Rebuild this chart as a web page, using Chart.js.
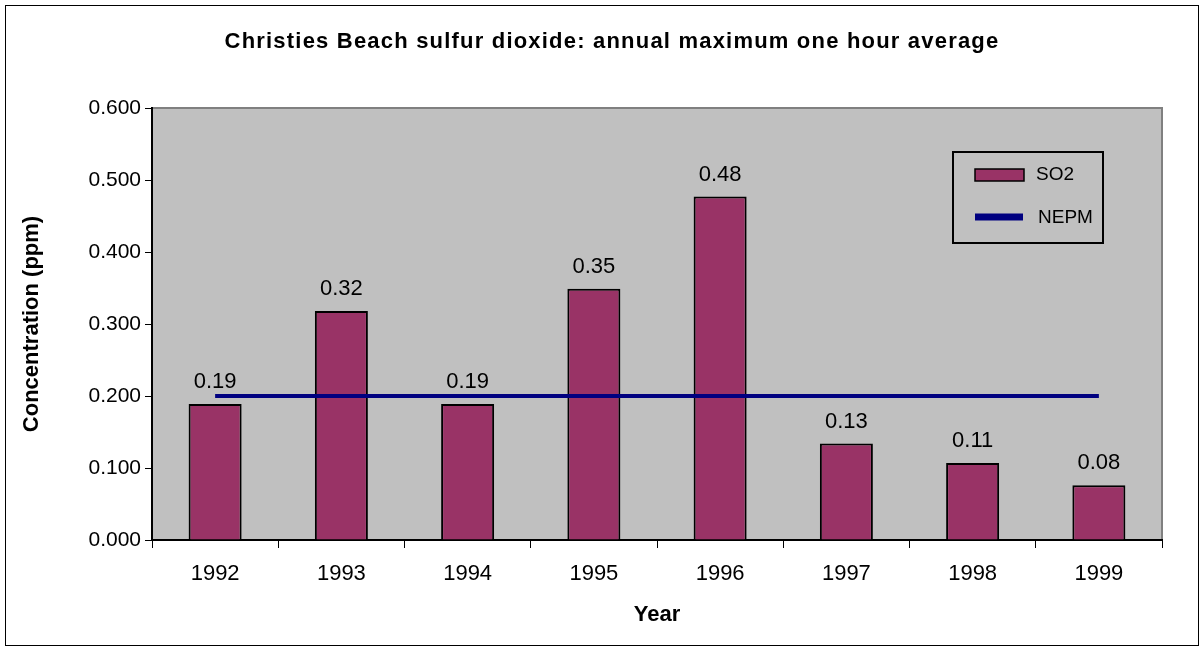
<!DOCTYPE html>
<html>
<head>
<meta charset="utf-8">
<script src="https://cdn.jsdelivr.net/npm/chart.js@4/dist/chart.umd.min.js"></script>
<style>
  html, body { margin: 0; padding: 0; background: #fff; }
  #wrap { width: 1204px; height: 652px; }
</style>
</head>
<body>
<div id="wrap"><canvas id="so2Chart" width="1204" height="652"></canvas></div>
<script>
// values
const years = ['1992', '1993', '1994', '1995', '1996', '1997', '1998', '1999'];
const so2Values = [0.189, 0.318, 0.189, 0.349, 0.477, 0.134, 0.107, 0.076];
const so2Labels = ['0.19', '0.32', '0.19', '0.35', '0.48', '0.13', '0.11', '0.08'];
const nepmValues = [0.2, 0.2, 0.2, 0.2, 0.2, 0.2, 0.2, 0.2];
const chartTitle = 'Christies Beach sulfur dioxide: annual maximum one hour average';

const FONT = 'Arial, "Liberation Sans", sans-serif';

// outer frame, title, grey plot area
const frame = {
    id: 'frame',
    beforeDraw(chart) {
        const ctx = chart.ctx;
        const a = chart.chartArea;
        ctx.save();
        ctx.strokeStyle = '#000';
        ctx.lineWidth = 1;
        ctx.strokeRect(5.5, 5.5, 1193, 640);

        ctx.fillStyle = '#000';
        ctx.font = 'bold 22px ' + FONT;
        ctx.letterSpacing = '1.2px';
        ctx.textAlign = 'center';
        ctx.textBaseline = 'middle';
        ctx.fillText(chartTitle, 612, 42);
        ctx.letterSpacing = '0px';

        ctx.fillStyle = '#c0c0c0';
        ctx.fillRect(a.left, a.top, a.right - a.left, a.bottom - a.top);
        ctx.strokeStyle = '#808080';
        ctx.lineWidth = 2;
        ctx.beginPath();
        ctx.moveTo(a.left, a.top);
        ctx.lineTo(a.right, a.top);
        ctx.lineTo(a.right, a.bottom);
        ctx.stroke();
        ctx.restore();
    }
};

// value labels above bars
const barLabels = {
    id: 'barLabels',
    afterDatasetsDraw(chart) {
        const ctx = chart.ctx;
        const meta = chart.getDatasetMeta(1);
        ctx.save();
        ctx.font = '22px ' + FONT;
        ctx.fillStyle = '#000';
        ctx.textAlign = 'center';
        ctx.textBaseline = 'middle';
        meta.data.forEach((bar, i) => {
            ctx.fillText(so2Labels[i], bar.x, bar.y - 22);
        });
        ctx.restore();
    }
};

// Excel-style legend box inside the plot area
const boxLegend = {
    id: 'boxLegend',
    afterDraw(chart) {
        const ctx = chart.ctx;
        const a = chart.chartArea;
        const x = a.right - 209, y = a.top + 44;
        ctx.save();
        ctx.fillStyle = '#c0c0c0';
        ctx.fillRect(x, y, 150, 91);
        ctx.strokeStyle = '#000';
        ctx.lineWidth = 2;
        ctx.strokeRect(x, y, 150, 91);
        ctx.fillStyle = '#993366';
        ctx.fillRect(x + 22, y + 17, 49, 12);
        ctx.lineWidth = 1.5;
        ctx.strokeRect(x + 22, y + 17, 49, 12);
        ctx.strokeStyle = '#000080';
        ctx.lineWidth = 7;
        ctx.beginPath();
        ctx.moveTo(x + 22, y + 65);
        ctx.lineTo(x + 70, y + 65);
        ctx.stroke();
        ctx.fillStyle = '#000';
        ctx.font = '19px ' + FONT;
        ctx.textBaseline = 'middle';
        ctx.fillText('SO2', x + 83, y + 23);
        ctx.fillText('NEPM', x + 85, y + 66);
        ctx.restore();
    }
};

new Chart(document.getElementById('so2Chart'), {
    data: {
        labels: years,
        datasets: [{
            type: 'line',
            label: 'NEPM',
            data: nepmValues,
            borderColor: '#000080',
            borderWidth: 4,
            pointRadius: 0,
            fill: false,
            order: 0
        }, {
            type: 'bar',
            label: 'SO2',
            data: so2Values,
            backgroundColor: '#993366',
            borderColor: '#000',
            borderWidth: 2,
            categoryPercentage: 1,
            barPercentage: 0.42,
            order: 1
        }]
    },
    options: {
        responsive: false,
        animation: false,
        layout: { padding: { left: 0, right: 42, top: 108, bottom: 0 } },
        plugins: {
            legend: { display: false },
            tooltip: { enabled: false },
            title: { display: false }
        },
        scales: {
            x: {
                offset: true,
                afterFit: s => { s.height = 112; },
                grid: { display: true, offset: true, drawOnChartArea: false, tickLength: 8, color: '#000' },
                border: { color: '#000', width: 2 },
                ticks: { color: '#000', font: { family: FONT, size: 22 }, padding: 13 },
                title: {
                    display: true, text: 'Year', color: '#000',
                    font: { family: FONT, size: 22, weight: 'bold' },
                    padding: { top: 0, bottom: 24 }
                }
            },
            y: {
                min: 0,
                max: 0.6,
                afterFit: s => { s.width = 152; },
                grid: { display: true, drawOnChartArea: false, tickLength: 7, color: '#000' },
                border: { color: '#000', width: 2 },
                ticks: {
                    stepSize: 0.1,
                    color: '#000',
                    font: { family: FONT, size: 21 },
                    padding: 4,
                    callback: v => v.toFixed(3)
                },
                title: {
                    display: true, text: 'Concentration (ppm)', color: '#000',
                    font: { family: FONT, size: 22, weight: 'bold' },
                    padding: { top: 19, bottom: 0 }
                }
            }
        }
    },
    plugins: [frame, barLabels, boxLegend]
});
</script>
</body>
</html>
